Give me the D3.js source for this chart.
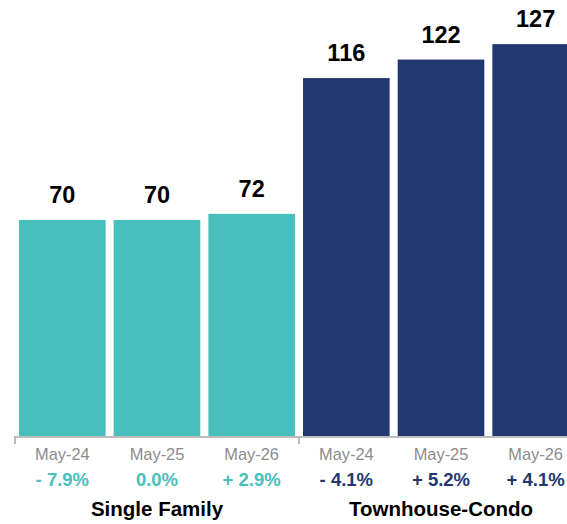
<!DOCTYPE html>
<html><head><meta charset="utf-8">
<script src="https://cdn.jsdelivr.net/npm/d3@7"></script>
<style>body{margin:0;background:#fff;overflow:hidden}svg{display:block;font-family:"Liberation Sans",Arial,Helvetica,sans-serif}</style>
</head><body><svg id="c" width="567" height="524"></svg>
<script>
const groups = ["Single Family", "Townhouse-Condo"];
const periods = ["May-24", "May-25", "May-26"];
const singleFamily = [70, 70, 72];
const townhouseCondo = [116, 122, 127];
const sfChange = ["- 7.9%", "0.0%", "+ 2.9%"];
const tcChange = ["- 4.1%", "+ 5.2%", "+ 4.1%"];
const colors = ["#48bfbd", "#233770"];

const rows = [];
[singleFamily, townhouseCondo].forEach((vals, g) => {
  vals.forEach((v, i) => rows.push({key: g + "-" + i, group: g, period: periods[i], value: v,
    change: (g === 0 ? sfChange : tcChange)[i]}));
});

const svg = d3.select("#c");
const baseY = 436;
const x = d3.scaleBand().domain(rows.map(d => d.key)).range([15, 583]).paddingInner(0.085).paddingOuter(0.0425);
const y = d3.scaleLinear().domain([0, 141.3]).range([baseY, 0]);

svg.selectAll("rect.bar").data(rows).join("rect")
  .attr("x", d => x(d.key)).attr("width", x.bandwidth())
  .attr("y", d => y(d.value)).attr("height", d => baseY - y(d.value))
  .attr("fill", d => colors[d.group]);

svg.selectAll("text.val").data(rows).join("text")
  .attr("x", d => x(d.key) + x.bandwidth() / 2).attr("y", d => y(d.value) - 17)
  .attr("text-anchor", "middle").attr("font-size", 23.5).attr("font-weight", "bold").attr("fill", "#000")
  .text(d => d.value);

// axis line and ticks
const step = x.step();
svg.append("line").attr("x1", 15).attr("x2", 583).attr("y1", baseY + 1).attr("y2", baseY + 1)
  .attr("stroke", "#bdbdbd").attr("stroke-width", 2);
[0, 3, 6].forEach(k => {
  const xx = 15 + k * step;
  svg.append("line").attr("x1", xx).attr("x2", xx).attr("y1", baseY).attr("y2", baseY + 8)
    .attr("stroke", "#bdbdbd").attr("stroke-width", 2);
});

svg.selectAll("text.per").data(rows).join("text")
  .attr("x", d => x(d.key) + x.bandwidth() / 2).attr("y", 460)
  .attr("text-anchor", "middle").attr("font-size", 16.4).attr("fill", "#8c8c8c")
  .text(d => d.period);

svg.selectAll("text.chg").data(rows).join("text")
  .attr("x", d => x(d.key) + x.bandwidth() / 2).attr("y", 486)
  .attr("text-anchor", "middle").attr("font-size", 18.5).attr("font-weight", "bold")
  .attr("fill", d => colors[d.group])
  .text(d => d.change);

svg.selectAll("text.grp").data(groups).join("text")
  .attr("x", (d, g) => 15 + (g * 3 + 1.5) * step).attr("y", 516)
  .attr("text-anchor", "middle").attr("font-size", 20.5).attr("font-weight", "bold").attr("fill", "#000")
  .text(d => d);
</script></body></html>
